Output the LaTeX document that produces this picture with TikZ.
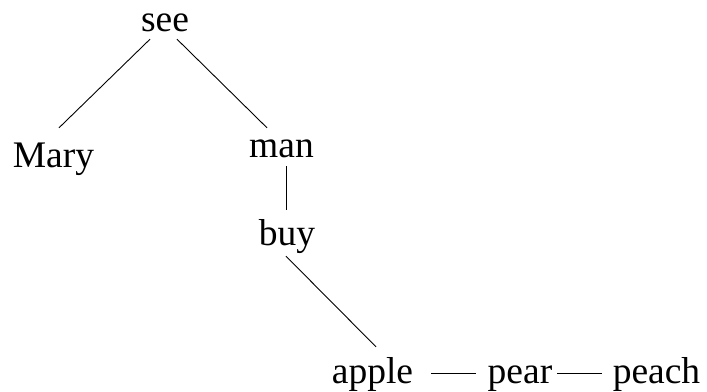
\documentclass[tikz,border=0pt]{standalone}
\usepackage{fontspec}
\setmainfont{Liberation Serif}
\begin{document}
\begin{tikzpicture}[x=1pt,y=-1pt,
  word/.style={anchor=base,inner sep=0pt,text height=26pt,text depth=8pt,font=\fontsize{37.5}{45}\selectfont},
  link/.style={line width=0.9pt}]
\useasboundingbox (0,0) rectangle (707,391);
\node[word] (see) at (165,31) {see};
\node[word] (mary) at (53.5,167) {Mary};
\node[word] (man) at (281.5,157) {man};
\node[word] (buy) at (287,245) {buy};
\node[word] (apple) at (372.5,383) {apple};
\node[word] (pear) at (520,383) {pear};
\node[word] (peach) at (656.5,383) {peach};
\draw[link] ([xshift=-15pt]see.south) -- ([xshift=5.5pt,yshift=13pt]mary.north);
\draw[link] ([xshift=12pt]see.south) -- ([xshift=-14.5pt,yshift=3pt]man.north);
\draw[link] ([xshift=4.5pt,yshift=-1pt]man.south) -- ([xshift=-1pt,yshift=9pt]buy.north);
\draw[link] ([xshift=-1pt,yshift=-3pt]buy.south) -- ([xshift=3.5pt,yshift=10pt]apple.north);
\draw[link] ([xshift=18pt,yshift=10pt]apple.base east) -- ([xshift=-12pt,yshift=10pt]pear.base west);
\draw[link] ([xshift=5pt,yshift=10pt]pear.base east) -- ([xshift=-11pt,yshift=10pt]peach.base west);
\end{tikzpicture}
\end{document}
